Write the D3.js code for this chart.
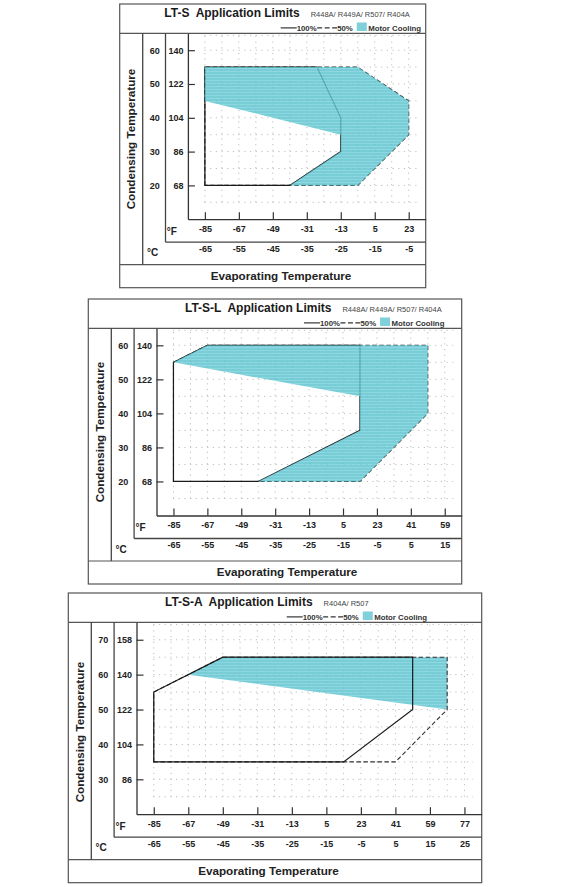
<!DOCTYPE html>
<html><head><meta charset="utf-8">
<script src="https://cdn.jsdelivr.net/npm/d3@7"></script>
<style>
body{margin:0;background:#fff;}
svg{display:block;font-family:"Liberation Sans",Arial,Helvetica,sans-serif;}
</style>
</head><body>
<svg id="c" width="585" height="887"></svg>
<script>
// ---------- DATA (temperatures in °C; °F given as tick labels) ----------
// LT-S
const ltsTitle = "LT-S  Application Limits";
const ltsRefrigerants = "R448A/ R449A/ R507/ R404A";
const ltsXTicksC = [-65, -55, -45, -35, -25, -15, -5];
const ltsXTicksF = ["-85", "-67", "-49", "-31", "-13", "5", "23"];
const ltsYTicksC = [20, 30, 40, 50, 60];
const ltsYTicksF = ["68", "86", "104", "122", "140"];
const ltsFull  = [[-65,20],[-65,55],[-32,55],[-25,40],[-25,30],[-40,20]];
const ltsHalf  = [[-65,20],[-65,55],[-20,55],[-5,45],[-5,35],[-20,20]];
const ltsMotor = [[-65,55],[-20,55],[-5,45],[-5,35],[-20,20],[-40,20],[-25,30],[-25,35],[-65,45]];

// LT-S-L
const ltslTitle = "LT-S-L  Application Limits";
const ltslRefrigerants = "R448A/ R449A/ R507/ R404A";
const ltslXTicksC = [-65, -55, -45, -35, -25, -15, -5, 5, 15];
const ltslXTicksF = ["-85", "-67", "-49", "-31", "-13", "5", "23", "41", "59"];
const ltslYTicksC = [20, 30, 40, 50, 60];
const ltslYTicksF = ["68", "86", "104", "122", "140"];
const ltslFull  = [[-65,20],[-65,55],[-55,60],[-10,60],[-10,35],[-40,20]];
const ltslHalf  = [[-65,20],[-65,55],[-55,60],[10,60],[10,40],[-10,20]];
const ltslMotor = [[-65,55],[-55,60],[10,60],[10,40],[-10,20],[-40,20],[-10,35],[-10,45]];

// LT-S-A
const ltsaTitle = "LT-S-A  Application Limits";
const ltsaRefrigerants = "R404A/ R507";
const ltsaXTicksC = [-65, -55, -45, -35, -25, -15, -5, 5, 15, 25];
const ltsaXTicksF = ["-85", "-67", "-49", "-31", "-13", "5", "23", "41", "59", "77"];
const ltsaYTicksC = [30, 40, 50, 60, 70];
const ltsaYTicksF = ["86", "104", "122", "140", "158"];
const ltsaFull  = [[-65,35],[-65,55],[-45,65],[10,65],[10,50],[-10,35]];
const ltsaHalf  = [[-65,35],[-65,55],[-45,65],[20,65],[20,50],[5,35]];
const ltsaMotor = [[-55,60],[-45,65],[20,65],[20,50]];

const legendLabels = ["100%", "50%", "Motor Cooling"];
const xAxisTitle = "Evaporating Temperature";
const yAxisTitle = "Condensing Temperature";

// ---------- LAYOUT ----------
const layouts = [
  {left:119.7, right:425.7, top:4,   bottom:287.7, titleX:164.3, legendX:280.7, xTitleX:281,   yTitleY:139, xDomain:[-70,0],  yDomain:[10,65], linesOnTop:false},
  {left:88.3,  right:461.7, top:299, bottom:584,   titleX:185,   legendX:304,   xTitleX:287,   yTitleY:432, xDomain:[-70,20], yDomain:[10,65], linesOnTop:false},
  {left:68.3,  right:481.7, top:593, bottom:882.7, titleX:165,   legendX:286.7, xTitleX:268.5, yTitleY:732, xDomain:[-70,30], yDomain:[20,75], linesOnTop:true}
];
const chartsData = [
  {title:ltsTitle,  ref:ltsRefrigerants,  xc:ltsXTicksC,  xf:ltsXTicksF,  yc:ltsYTicksC,  yf:ltsYTicksF,  full:ltsFull,  half:ltsHalf,  motor:ltsMotor},
  {title:ltslTitle, ref:ltslRefrigerants, xc:ltslXTicksC, xf:ltslXTicksF, yc:ltslYTicksC, yf:ltslYTicksF, full:ltslFull, half:ltslHalf, motor:ltslMotor},
  {title:ltsaTitle, ref:ltsaRefrigerants, xc:ltsaXTicksC, xf:ltsaXTicksF, yc:ltsaYTicksC, yf:ltsaYTicksF, full:ltsaFull, half:ltsaHalf, motor:ltsaMotor}
];

const svg = d3.select("#c");
const defs = svg.append("defs");
const pat = defs.append("pattern").attr("id","mc").attr("patternUnits","userSpaceOnUse")
  .attr("width",6).attr("height",3);
pat.append("rect").attr("width",6).attr("height",3).attr("fill","#5ac2ce");
pat.append("rect").attr("y",2).attr("width",6).attr("height",1).attr("fill","#73ced9");

const INK = "#222";
const BORDER = "#555";

function drawChart(d, L) {
  const g = svg.append("g");
  const header = L.top + 29.3, col1 = L.left + 23, col2 = L.left + 45.8, axisX = L.left + 68.2;
  const xAxisY = L.bottom - 68.5, fRowY = xAxisY + 23, sepY = L.bottom - 23;
  const x = d3.scaleLinear().domain(L.xDomain).range([axisX, L.right]);
  const y = d3.scaleLinear().domain(L.yDomain).range([xAxisY, header]);

  // frame
  g.append("rect").attr("x",L.left).attr("y",L.top).attr("width",L.right-L.left).attr("height",L.bottom-L.top)
    .attr("fill","none").attr("stroke",BORDER).attr("stroke-width",1.2);
  const seg = (x1,y1,x2,y2,w,c) => g.append("line").attr("x1",x1).attr("y1",y1).attr("x2",x2).attr("y2",y2)
    .attr("stroke",c||BORDER).attr("stroke-width",w||1.2);
  seg(L.left, header, L.right, header);
  seg(L.left, sepY, L.right, sepY);
  seg(col1, header, col1, sepY, 1.3, "#444");
  seg(col2, header, col2, fRowY, 1.3, "#444");
  seg(col2, fRowY, L.right, fRowY, 1.3, "#444");

  // grid dots
  const grid = g.append("g").attr("stroke","#bdbdbd").attr("stroke-width",1).attr("stroke-dasharray","1.2,4.5");
  const rows = d3.range(L.yDomain[0]+5, L.yDomain[1], 5).concat([L.yDomain[1]-0.6]);
  rows.forEach(v => grid.append("line").attr("x1",x(-65)-0.5).attr("x2",x(L.xDomain[1]-2.5))
    .attr("y1",y(v)).attr("y2",y(v)));
  const cols = d3.range(-65, L.xDomain[1]-2, 5);
  cols.forEach(v => grid.append("line").attr("x1",x(v)).attr("x2",x(v))
    .attr("y1",y(L.yDomain[0]+5)).attr("y2",y(L.yDomain[1]-0.6)));

  const line = d3.line().x(p => x(p[0])).y(p => y(p[1])).curve(d3.curveLinearClosed);
  const drawMotor = () => g.append("path").attr("d", line(d.motor)).attr("fill","url(#mc)")
    .attr("fill-opacity", 0.82).attr("stroke","none");
  const drawLines = () => {
    g.append("path").attr("d", line(d.half)).attr("fill","none").attr("stroke","#333")
      .attr("stroke-width",1.1).attr("stroke-dasharray","4.5,2.5");
    g.append("path").attr("d", line(d.full)).attr("fill","none").attr("stroke","#1a1a1a")
      .attr("stroke-width",1.2);
  };
  if (L.linesOnTop) { drawMotor(); drawLines(); } else { drawLines(); drawMotor(); }

  const styleAxis = (sel) => {
    sel.selectAll("text").attr("font-size",9).attr("font-weight","bold").attr("fill",INK)
      .attr("font-family","'Liberation Sans',Arial,sans-serif");
    sel.selectAll("line").attr("stroke","#333").attr("stroke-width",1.2);
    sel.select(".domain").attr("stroke","#333").attr("stroke-width",1.3);
  };

  // x axis: °F labels with ticks, °C labels below
  const xAxisF = d3.axisBottom(x).tickValues(d.xc).tickSize(-7).tickSizeOuter(0).tickPadding(6.3)
    .tickFormat((v,i) => d.xf[i]);
  g.append("g").attr("transform",`translate(0,${xAxisY})`).call(xAxisF).call(styleAxis);
  const xAxisC = d3.axisBottom(x).tickValues(d.xc).tickSize(0).tickPadding(26.3)
    .tickFormat(v => String(v));
  g.append("g").attr("transform",`translate(0,${xAxisY})`).call(xAxisC).call(styleAxis)
    .call(s => s.select(".domain").remove());

  // y axis: °F labels with ticks, °C labels
  const yAxisF = d3.axisLeft(y).tickValues(d.yc).tickSize(-7).tickSizeOuter(0).tickPadding(4.4)
    .tickFormat((v,i) => d.yf[i]);
  g.append("g").attr("transform",`translate(${axisX},0)`).call(yAxisF).call(styleAxis);
  const yAxisC = d3.axisLeft(y).tickValues(d.yc).tickSize(0).tickPadding(28.2)
    .tickFormat(v => String(v));
  g.append("g").attr("transform",`translate(${axisX},0)`).call(yAxisC).call(styleAxis)
    .call(s => s.select(".domain").remove());

  // unit labels
  g.append("text").attr("x",col2+1.3).attr("y",xAxisY+15.5).attr("font-size",10).attr("font-weight","bold")
    .attr("fill",INK).text("°F");
  g.append("text").attr("x",col1+4.3).attr("y",xAxisY+37).attr("font-size",10).attr("font-weight","bold")
    .attr("fill",INK).text("°C");

  // axis titles
  g.append("text").attr("x",L.xTitleX).attr("y",L.bottom-8).attr("text-anchor","middle")
    .attr("font-size",11.7).attr("font-weight","bold").attr("fill",INK).text(xAxisTitle);
  const yc = (L.left+col1)/2 + 3.8;
  g.append("text").attr("transform",`translate(${yc},${L.yTitleY}) rotate(-90)`).attr("text-anchor","middle")
    .attr("font-size",11.7).attr("font-weight","bold").attr("fill",INK).text(yAxisTitle);

  // title + refrigerants
  const t = g.append("text").attr("x",L.titleX).attr("y",L.top+13.3).attr("font-size",12)
    .attr("font-weight","bold").attr("fill","#1a1a1a").attr("xml:space","preserve")
    .style("white-space","pre").text(d.title);
  const tw = t.node().getComputedTextLength();
  g.append("text").attr("x",L.titleX+tw+11).attr("y",L.top+12.7).attr("font-size",7.5)
    .attr("fill","#444").text(d.ref);

  // legend
  const ly = header - 2.8, lx = L.legendX;
  const lg = g.append("g").attr("font-size",7.8).attr("font-weight","bold").attr("fill","#333");
  lg.append("line").attr("x1",lx).attr("x2",lx+16).attr("y1",ly-2.6).attr("y2",ly-2.6)
    .attr("stroke","#222").attr("stroke-width",1.1);
  const t1 = lg.append("text").attr("x",lx+16).attr("y",ly).text(legendLabels[0]);
  const x2 = lx + 16 + t1.node().getComputedTextLength() + 0.5;
  lg.append("line").attr("x1",x2).attr("x2",x2+20).attr("y1",ly-2.6).attr("y2",ly-2.6)
    .attr("stroke","#333").attr("stroke-width",1.1).attr("stroke-dasharray","5,2.5");
  const t2 = lg.append("text").attr("x",x2+20).attr("y",ly).text(legendLabels[1]);
  const x3 = x2 + 20 + t2.node().getComputedTextLength() + 4;
  lg.append("rect").attr("x",x3).attr("y",ly-8).attr("width",10).attr("height",8.5).attr("fill","#7fd0da");
  lg.append("text").attr("x",x3+11.5).attr("y",ly).text(legendLabels[2]);
}

chartsData.forEach((d,i) => drawChart(d, layouts[i]));
</script>
</body></html>
